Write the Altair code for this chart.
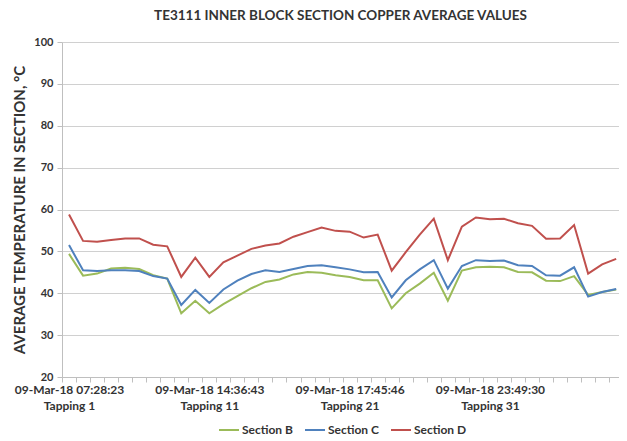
import altair as alt
import pandas as pd

# ---- data ----
tapping_index = list(range(40))
section_b = [49.4, 44.2, 44.7, 45.9, 46.1, 45.8, 44.3, 43.5, 35.2, 38.2,
             35.2, 37.4, 39.3, 41.2, 42.7, 43.3, 44.5, 45.1, 44.9, 44.3,
             43.9, 43.1, 43.1, 36.4, 40.0, 42.3, 44.9, 38.2, 45.4, 46.2,
             46.3, 46.2, 45.1, 45.0, 43.0, 42.9, 44.1, 39.6, 40.3, 40.9]
section_c = [51.5, 45.5, 45.3, 45.5, 45.5, 45.3, 44.1, 43.5, 37.2, 40.8,
             37.7, 40.9, 43.0, 44.6, 45.5, 45.1, 45.8, 46.5, 46.7, 46.2,
             45.7, 45.0, 45.1, 39.0, 43.1, 45.7, 47.9, 41.1, 46.5, 47.9,
             47.7, 47.8, 46.7, 46.5, 44.3, 44.2, 46.2, 39.2, 40.3, 41.0]
section_d = [58.8, 52.5, 52.3, 52.7, 53.1, 53.1, 51.6, 51.2, 43.9, 48.5,
             43.9, 47.4, 49.0, 50.6, 51.4, 51.9, 53.5, 54.6, 55.7, 54.9,
             54.7, 53.3, 54.0, 45.4, 49.8, 54.0, 57.8, 47.9, 55.9, 58.1,
             57.7, 57.8, 56.7, 56.1, 53.0, 53.1, 56.3, 44.7, 46.9, 48.2]
series_names = ["Section B", "Section C", "Section D"]
series_colors = ["#9BBB59", "#4F81BD", "#C0504D"]

label_index = [0, 10, 20, 30]
label_dates = ["09-Mar-18 07:28:23", "09-Mar-18 14:36:43",
               "09-Mar-18 17:45:46", "09-Mar-18 23:49:30"]
label_tappings = ["Tapping 1", "Tapping 11", "Tapping 21", "Tapping 31"]

y_ticks = [20, 30, 40, 50, 60, 70, 80, 90, 100]

# ---- build table ----
df = pd.DataFrame({
    "idx": tapping_index,
    "Section B": section_b,
    "Section C": section_c,
    "Section D": section_d,
})
long = df.melt(id_vars="idx", var_name="Series", value_name="Temp")

# x-axis label expression (two-line labels at category positions)
expr = "''"
for i, d, t in reversed(list(zip(label_index, label_dates, label_tappings))):
    expr = f"datum.value == {i} ? ['{d}', '{t}'] : ({expr})"

tick_vals = [i - 0.5 for i in range(40)] + label_index

FONT = "Lato"
TXT = "#333333"

chart = alt.Chart(long).mark_line(strokeWidth=2).encode(
    x=alt.X("idx:Q",
            scale=alt.Scale(domain=[-0.5, 39.2], nice=False, zero=False),
            axis=alt.Axis(
                values=tick_vals,
                labelExpr=expr,
                title=None,
                grid=False,
                domainColor="#BFBFBF",
                tickColor="#BFBFBF",
                tickSize=5,
                tickOpacity={"condition": {"test": "datum.value % 1 == 0", "value": 0}, "value": 1},
                labelOverlap=False,
                labelFlush=False,
                labelBound=False,
                labelFont=FONT,
                labelFontSize=12,
                labelFontWeight="bold",
                labelColor=TXT,
                labelPadding=2,
                labelLineHeight=16,
                labelBaseline="top",
            )),
    y=alt.Y("Temp:Q",
            scale=alt.Scale(domain=[20, 100], nice=False),
            axis=alt.Axis(
                values=y_ticks,
                title="AVERAGE TEMPERATURE IN SECTION, °C",
                titleFont=FONT,
                titleFontSize=15,
                titleFontWeight="bold",
                titleColor=TXT,
                titlePadding=6,
                labelFont=FONT,
                labelFontSize=11,
                labelFontWeight="bold",
                labelColor=TXT,
                labelPadding=4,
                tickSize=5,
                tickColor="#BFBFBF",
                domainColor="#BFBFBF",
                gridColor="#D0D0D0",
            )),
    color=alt.Color("Series:N",
                    scale=alt.Scale(domain=series_names, range=series_colors),
                    legend=alt.Legend(
                        title=None,
                        orient="none",
                        legendX=156,
                        legendY=377,
                        direction="horizontal",
                        symbolType="stroke",
                        symbolStrokeWidth=2,
                        symbolSize=400,
                        labelFont=FONT,
                        labelFontSize=12,
                        labelFontWeight="bold",
                        labelColor=TXT,
                        labelOffset=2,
                        columnPadding=8,
                    )),
    order=alt.Order("idx:Q"),
).properties(
    width=557,
    height=335,
    title=alt.Title(
        "TE3111 INNER BLOCK SECTION COPPER AVERAGE VALUES",
        font=FONT, fontSize=13.5, fontWeight="bold", color=TXT,
        anchor="middle", frame="group", offset=14,
    ),
    autosize=alt.AutoSizeParams(type="none"),
    padding={"left": 54, "top": 34, "right": 0, "bottom": 62},
).configure_view(stroke=None)

chart.save("out.html", embed_options={"renderer": "svg", "actions": False})
